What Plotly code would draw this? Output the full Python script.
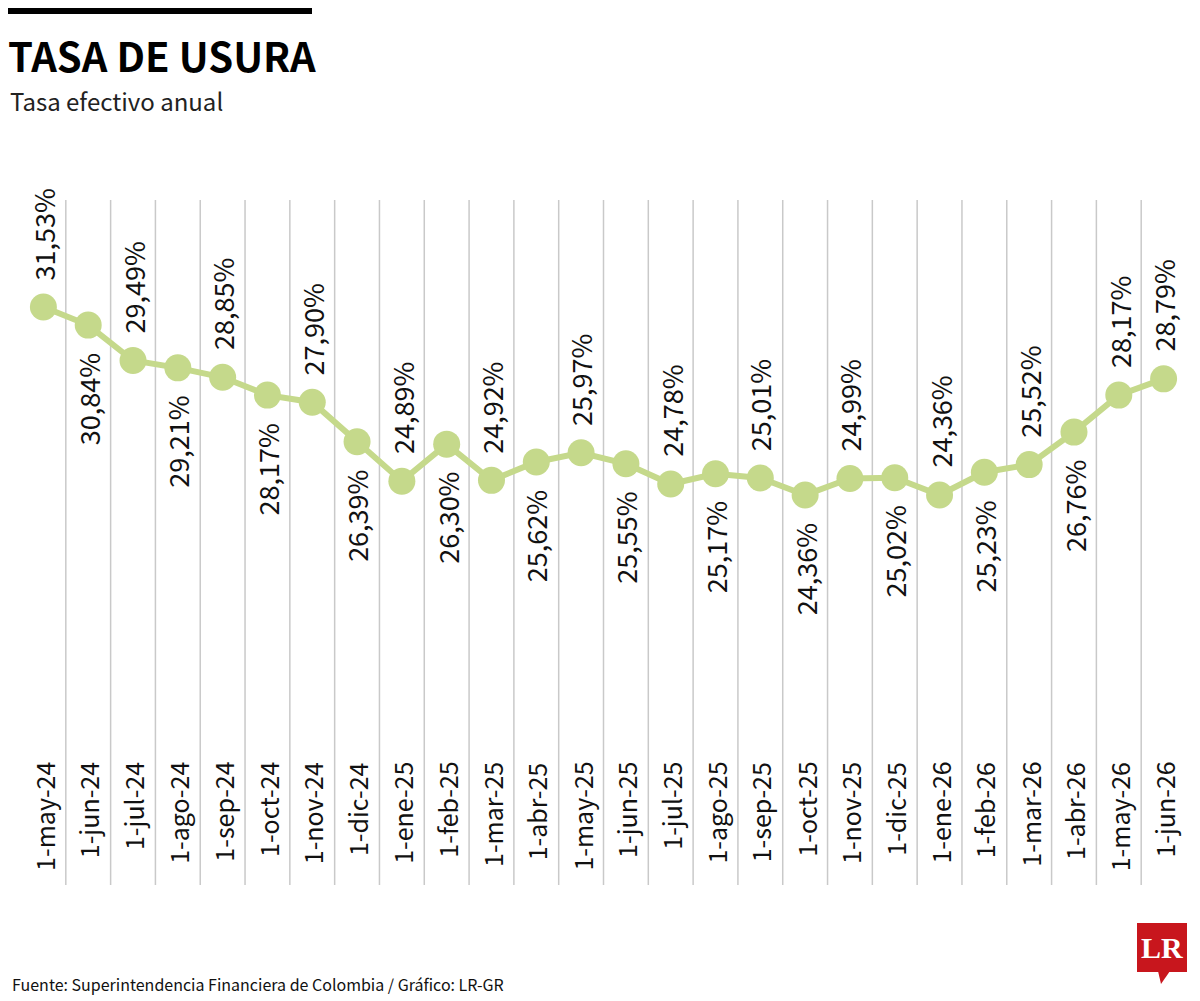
import plotly.graph_objects as go

categories = ["1-may-24", "1-jun-24", "1-jul-24", "1-ago-24", "1-sep-24", "1-oct-24",
              "1-nov-24", "1-dic-24", "1-ene-25", "1-feb-25", "1-mar-25", "1-abr-25",
              "1-may-25", "1-jun-25", "1-jul-25", "1-ago-25", "1-sep-25", "1-oct-25",
              "1-nov-25", "1-dic-25", "1-ene-26", "1-feb-26", "1-mar-26", "1-abr-26",
              "1-may-26", "1-jun-26"]
values = [31.53, 30.84, 29.49, 29.21, 28.85, 28.17, 27.90, 26.39, 24.89, 26.30,
          24.92, 25.62, 25.97, 25.55, 24.78, 25.17, 25.01, 24.36, 24.99, 25.02,
          24.36, 25.23, 25.52, 26.76, 28.17, 28.79]

title = "TASA DE USURA"
subtitle = "Tasa efectivo anual"
source = "Fuente: Superintendencia Financiera de Colombia / Gráfico: LR-GR"

W, H = 1200, 1001
L, R, T, B = 21, 14, 200, 116
PW, PH = W - L - R, H - T - B
FONT = "Noto Sans CJK SC, DejaVu Sans Condensed, sans-serif"
GREEN = "#c5d98b"


def px(x):
    return (x - L) / PW


def py(y):
    return (H - B - y) / PH


n = len(categories)
xs = list(range(n))

fig = go.Figure()
fig.add_trace(go.Scatter(
    x=xs, y=values, mode="lines+markers",
    line=dict(color=GREEN, width=6),
    marker=dict(color=GREEN, size=27),
    hoverinfo="skip", showlegend=False,
))

shapes = []
for i in range(n - 1):
    shapes.append(dict(type="line", xref="x", yref="paper", x0=i + 0.5, x1=i + 0.5,
                       y0=0, y1=1, line=dict(color="#c9c9c9", width=1.5), layer="below"))
shapes.append(dict(type="rect", xref="paper", yref="paper", x0=px(8), x1=px(312),
                   y0=py(14), y1=py(8), fillcolor="#000000", line=dict(width=0)))
shapes.append(dict(type="rect", xref="paper", yref="paper", x0=px(1137), x1=px(1187),
                   y0=py(972), y1=py(923), fillcolor="#c8161d", line=dict(width=0)))
x0p, x1p, x2p = px(1158), px(1170), px(1161)
shapes.append(dict(type="path", xref="paper", yref="paper",
                   path=f"M {x0p} {py(971)} L {x1p} {py(971)} L {x2p} {py(984)} Z",
                   fillcolor="#c8161d", line=dict(width=0)))

annotations = []
for i, v in enumerate(values):
    label = f"{v:.2f}".replace(".", ",") + "%"
    above = (i % 2 == 0) or (i == n - 1)
    annotations.append(dict(
        x=i, y=v, xref="x", yref="y", text=label, textangle=-90, showarrow=False,
        xanchor="center", yanchor="bottom" if above else "top",
        yshift=25 if above else -26,
        font=dict(family=FONT, size=27, color="#111111"),
    ))
    annotations.append(dict(
        x=i, y=py(760), xref="x", yref="paper", text=categories[i], textangle=-90,
        showarrow=False, xanchor="center", yanchor="top",
        font=dict(family=FONT, size=25, color="#111111"),
    ))

annotations += [
    dict(x=px(6), y=py(86), xref="paper", yref="paper", text=f"<b>{title}</b>",
         showarrow=False, xanchor="left", yanchor="bottom",
         font=dict(family=FONT, size=40, color="#000000")),
    dict(x=px(8), y=py(120), xref="paper", yref="paper", text=subtitle,
         showarrow=False, xanchor="left", yanchor="bottom",
         font=dict(family=FONT, size=24, color="#222222")),
    dict(x=px(10), y=py(998), xref="paper", yref="paper", text=source,
         showarrow=False, xanchor="left", yanchor="bottom",
         font=dict(family=FONT, size=16, color="#111111")),
    dict(x=px(1162), y=py(947), xref="paper", yref="paper", text="<b>LR</b>",
         showarrow=False, xanchor="center", yanchor="middle",
         font=dict(family="Liberation Serif, DejaVu Serif, serif", size=30, color="#ffffff")),
]

fig.update_layout(
    width=W, height=H,
    margin=dict(l=L, r=R, t=T, b=B, pad=0),
    paper_bgcolor="#ffffff", plot_bgcolor="#ffffff",
    xaxis=dict(range=[-0.5, n - 0.5], visible=False, fixedrange=True),
    yaxis=dict(range=[9.49, 35.61], visible=False, fixedrange=True),
    shapes=shapes, annotations=annotations,
)

fig.write_html("out.html", config={"displayModeBar": False})
